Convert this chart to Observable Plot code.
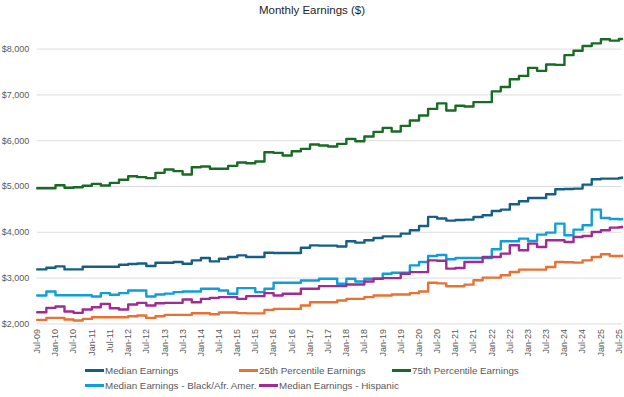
<!DOCTYPE html>
<html>
<head>
<meta charset="utf-8">
<script src="https://cdn.jsdelivr.net/npm/d3@7"></script>
<script src="https://cdn.jsdelivr.net/npm/@observablehq/plot@0.6"></script>
<style>
  body { margin: 0; background: #fff; }
  #wrap { position: relative; width: 624px; height: 397px; overflow: hidden; font-family: "Liberation Sans", Arial, sans-serif; }
  #title { position: absolute; left: 0; top: 0; width: 624px; text-align: center; font-size: 11.5px; line-height: 20px; color: #262626; }
  #chart { position: absolute; left: 0; top: 20px; }
  .leg { position: absolute; font-size: 9.8px; color: #595959; white-space: nowrap; line-height: 12px; }
  .leg .sw { display: inline-block; width: 19px; height: 2.5px; vertical-align: middle; margin-right: 1px; position: relative; top: -1px; }
</style>
</head>
<body>
<div id="wrap">
  <div id="title">Monthly Earnings ($)</div>
  <div id="chart"></div>
</div>
<script>
// Quarterly sample dates (plus the line's end point)
const periods = ("Jul-09 Oct-09 " +
  "Jan-10 Apr-10 Jul-10 Oct-10 Jan-11 Apr-11 Jul-11 Oct-11 Jan-12 Apr-12 Jul-12 Oct-12 " +
  "Jan-13 Apr-13 Jul-13 Oct-13 Jan-14 Apr-14 Jul-14 Oct-14 Jan-15 Apr-15 Jul-15 Oct-15 " +
  "Jan-16 Apr-16 Jul-16 Oct-16 Jan-17 Apr-17 Jul-17 Oct-17 Jan-18 Apr-18 Jul-18 Oct-18 " +
  "Jan-19 Apr-19 Jul-19 Oct-19 Jan-20 Apr-20 Jul-20 Oct-20 Jan-21 Apr-21 Jul-21 Oct-21 " +
  "Jan-22 Apr-22 Jul-22 Oct-22 Jan-23 Apr-23 Jul-23 Oct-23 Jan-24 Apr-24 Jul-24 Oct-24 " +
  "Jan-25 Apr-25 Jul-25 Aug-25").split(" ");

const tickLabels = ["Jul-09","Jan-10","Jul-10","Jan-11","Jul-11","Jan-12","Jul-12","Jan-13","Jul-13",
  "Jan-14","Jul-14","Jan-15","Jul-15","Jan-16","Jul-16","Jan-17","Jul-17","Jan-18","Jul-18",
  "Jan-19","Jul-19","Jan-20","Jul-20","Jan-21","Jul-21","Jan-22","Jul-22","Jan-23","Jul-23",
  "Jan-24","Jul-24","Jan-25","Jul-25"];

const yTicks = [2000, 3000, 4000, 5000, 6000, 7000, 8000];

const seriesNames = ["Median Earnings", "25th Percentile Earnings", "75th Percentile Earnings",
  "Median Earnings - Black/Afr. Amer.", "Median Earnings - Hispanic"];
const seriesColors = ["#156082", "#E97132", "#196B24", "#0F9ED5", "#A02B93"];

const median = [3190,3226,3255,3190,3190,3248,3248,3248,3248,3292,3307,3320,3263,3336,3336,3350,
  3314,3387,3438,3365,3423,3460,3496,3460,3460,3555,3547,3547,3547,3664,3715,3708,3708,3690,
  3803,3774,3825,3876,3912,3912,3971,4044,4139,4336,4300,4255,4270,4277,4335,4371,4466,4495,
  4612,4677,4750,4750,4830,4939,4945,4954,5041,5158,5172,5172,5187,5195];

const p25 = [2087,2131,2131,2095,2073,2109,2146,2146,2146,2146,2168,2182,2131,2168,2197,2197,
  2197,2233,2233,2212,2248,2248,2235,2230,2230,2306,2328,2328,2328,2401,2474,2474,2474,2511,
  2547,2547,2584,2620,2620,2642,2642,2671,2708,2898,2885,2821,2821,2857,2952,3010,3010,3061,
  3134,3185,3185,3185,3243,3352,3345,3337,3388,3461,3520,3483,3483,3490];

const p75 = [4963,4963,5028,4972,4985,5015,5058,5022,5080,5146,5225,5204,5182,5298,5371,5335,
  5262,5421,5437,5386,5386,5451,5525,5509,5545,5749,5735,5676,5771,5822,5916,5895,5873,5931,
  6040,5989,6091,6193,6280,6200,6324,6440,6549,6695,6815,6660,6762,6748,6843,6843,7078,7173,
  7341,7415,7591,7525,7664,7655,7869,7964,8067,8126,8214,8184,8221,8221];

const black = [2620,2708,2625,2625,2625,2625,2598,2671,2635,2671,2730,2730,2598,2642,2660,2693,
  2708,2708,2766,2766,2730,2657,2781,2781,2693,2766,2898,2898,2898,2949,2949,2985,2985,2876,
  2985,2927,2985,2985,3095,3117,3117,3277,3350,3482,3505,3410,3439,3439,3439,3439,3629,3803,
  3803,3862,3811,3949,3993,4189,3934,4058,4153,4495,4313,4290,4284,4290];

const hispanic = [2255,2350,2379,2270,2241,2314,2365,2438,2343,2314,2423,2460,2401,2452,2460,2460,
  2533,2474,2547,2569,2584,2584,2547,2606,2606,2671,2620,2657,2657,2766,2766,2825,2825,2825,
  2861,2861,2927,2985,3000,3000,3095,3131,3131,3387,3380,3206,3221,3352,3352,3461,3461,3534,
  3716,3607,3752,3680,3825,3825,3789,3898,3920,4007,4044,4102,4110,4120];

const parse = d3.utcParse("%b-%y");
const dates = periods.map(parse);
const tickDates = tickLabels.map(parse);
const seriesValues = [median, p25, p75, black, hispanic];

const FONT = '"Liberation Sans", Arial, sans-serif';

const chart = Plot.plot({
  width: 624,
  height: 344,
  marginLeft: 36.7,
  marginRight: 2.5,
  marginTop: 5.7,
  marginBottom: 40.6,
  style: { fontFamily: FONT, fontSize: "9px", color: "#595959", background: "transparent" },
  x: {
    type: "utc",
    domain: [parse("Jul-09"), parse("Aug-25")]
  },
  y: { domain: [2000, 8500] },
  marks: [
    Plot.ruleY(yTicks, { stroke: "#d9d9d9", strokeWidth: 0.9 }),
    Plot.axisY({ ticks: yTicks, tickFormat: d => "$" + d3.format(",")(d), tickSize: 0, tickPadding: 8, label: null, fill: "#595959" }),
    Plot.axisX({ ticks: tickDates, tickFormat: d3.utcFormat("%b-%y"), tickRotate: -90, tickSize: 0, tickPadding: 5, label: null, fill: "#595959" }),
    ...seriesValues.map((vals, i) =>
      Plot.lineY(vals, { x: dates, y: d => d, stroke: seriesColors[i], strokeWidth: 2.4, curve: "step-after" })
    )
  ]
});
document.getElementById("chart").appendChild(chart);

// Legend: two rows, fixed item positions
const wrap = document.getElementById("wrap");
const legendPos = [[85, 365], [239, 365], [392, 365], [85, 380], [259, 380]];
seriesNames.forEach((name, i) => {
  const div = document.createElement("div");
  div.className = "leg";
  div.style.left = legendPos[i][0] + "px";
  div.style.top = legendPos[i][1] + "px";
  const sw = document.createElement("span");
  sw.className = "sw";
  sw.style.background = seriesColors[i];
  div.appendChild(sw);
  div.appendChild(document.createTextNode(name));
  wrap.appendChild(div);
});
</script>
</body>
</html>
